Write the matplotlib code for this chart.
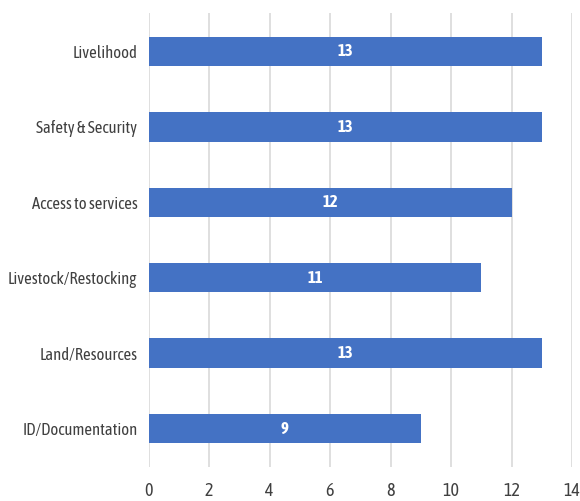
import matplotlib
matplotlib.use("Agg")
import matplotlib.pyplot as plt
from matplotlib import font_manager

categories = ["Livelihood", "Safety & Security", "Access to services",
              "Livestock/Restocking", "Land/Resources", "ID/Documentation"]
values = [13, 13, 12, 11, 13, 9]
xticks = [0, 2, 4, 6, 8, 10, 12, 14]

names = {f.name for f in font_manager.fontManager.ttflist}
prefs = ["Asap Condensed", "Barlow Condensed", "Archivo Narrow", "Liberation Sans"]
fam = next(p for p in prefs if p in names)
plt.rcParams['font.family'] = [fam, 'DejaVu Sans']

fig = plt.figure(figsize=(5.8, 5.01), dpi=100)
ax = fig.add_axes([148.5/580, 1-467/501, (572-148.5)/580, (467-13)/501])

ypos = list(range(len(categories)))[::-1]
ax.barh(ypos, values, height=0.39, color="#4472C4", zorder=3)
for y, v in zip(ypos, values):
    ax.text(v/2, y, str(v), ha="center", va="center", color="white",
            fontsize=12, fontweight="bold", zorder=4)

ax.set_xlim(0, 14)
ax.set_ylim(-0.51, 5.51)
ax.set_xticks(xticks)
ax.set_yticks(ypos)
ax.set_yticklabels(categories)
ax.xaxis.grid(True, color="#d9d9d9", linewidth=1.2, zorder=0)
for s in ax.spines.values():
    s.set_visible(False)
ax.tick_params(axis="both", length=0, colors="#404040", labelsize=12)
ax.tick_params(axis="x", pad=11, labelsize=13)
ax.tick_params(axis="y", pad=8)

fig.savefig("out.png", dpi=100)
